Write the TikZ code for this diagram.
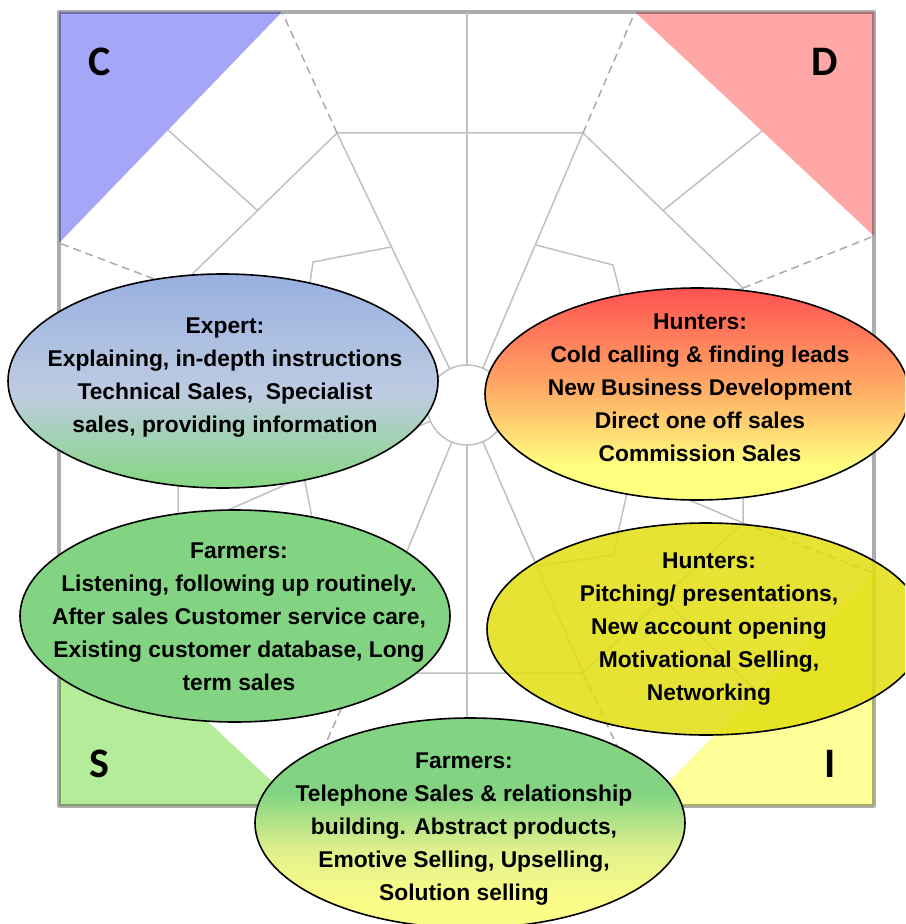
\documentclass[tikz,border=0pt]{standalone}
\usepackage{fontspec}
\setsansfont{Liberation Sans}
\newfontfamily\cornerfont{Carlito}
\usetikzlibrary{shapes.geometric}

\definecolor{wheelgray}{RGB}{192,192,192}
\definecolor{guidegray}{RGB}{170,170,170}
\definecolor{cblue}{RGB}{166,166,248}
\definecolor{dred}{RGB}{255,166,166}
\definecolor{sgreen}{RGB}{181,236,154}
\definecolor{iyellow}{RGB}{255,255,153}
\definecolor{expB}{RGB}{152,176,224}
\definecolor{expM}{RGB}{190,204,226}
\definecolor{expG}{RGB}{136,214,136}
\definecolor{huR}{RGB}{255,82,82}
\definecolor{huO}{RGB}{255,168,100}
\definecolor{huY}{RGB}{255,255,128}
\definecolor{faG}{RGB}{130,212,130}
\definecolor{faM}{RGB}{222,240,140}
\definecolor{faY}{RGB}{252,252,136}
\definecolor{hunterYellow}{RGB}{226,222,16}

\pgfdeclareverticalshading{expertshade}{100bp}{color(0bp)=(expG); color(27bp)=(expG); color(47bp)=(expM); color(75bp)=(expB); color(100bp)=(expB)}
\pgfdeclareverticalshading{huntershade}{100bp}{color(0bp)=(huY); color(33bp)=(huY); color(52bp)=(huO); color(75bp)=(huR); color(100bp)=(huR)}
\pgfdeclareverticalshading{farmershade}{100bp}{color(0bp)=(faY); color(32bp)=(faY); color(44bp)=(faM); color(57bp)=(faG); color(100bp)=(faG)}

\tikzset{
  wheel/.style={draw=wheelgray,line width=0.75pt},
  guide/.style={draw=guidegray,line width=0.75pt,dash pattern=on 4pt off 2.5pt},
  bubble/.style={ellipse,draw=black,line width=0.8pt,inner sep=0pt},
  blurb/.style={font=\sffamily\bfseries\fontsize{11.4}{16.5}\selectfont,align=center,inner sep=0pt,anchor=north},
  corner/.style={font=\cornerfont\bfseries\fontsize{21}{21}\selectfont,inner sep=0pt}
}

\begin{document}
\begin{tikzpicture}[x=0.5pt,y=-0.5pt,line join=round]
  \useasboundingbox (0,0) rectangle (905,924);
  \clip (0,0) rectangle (905,924);

  % corner fields
  \fill[cblue] (59,12) -- (282,12) -- (59,243) -- cycle;
  \fill[dred] (635,12) -- (874,12) -- (874,236) -- cycle;
  \fill[sgreen] (59,806) -- (59,582) -- (298,806) -- cycle;
  \fill[iyellow] (874,806) -- (645,806) -- (874,573) -- cycle;
  \draw[black,opacity=0.32,line width=1.6pt] (59,12) rectangle (874,806);

  % wheel points
  \coordinate (o) at (467,405);
  \coordinate (top) at (467,12);
  \coordinate (bot) at (467,806);
  \coordinate (a1) at (337,133);
  \coordinate (a2) at (583,133);
  \coordinate (a3) at (743,288);
  \coordinate (a4) at (743,523);
  \coordinate (a5) at (583,673);
  \coordinate (a6) at (357,673);
  \coordinate (a7) at (178,532);
  \coordinate (a8) at (178,288);
  \coordinate (p1) at (282,12);
  \coordinate (p2) at (635,12);
  \coordinate (p3) at (874,236);
  \coordinate (p4) at (874,573);
  \coordinate (p5) at (645,806);
  \coordinate (p6) at (298,806);
  \coordinate (p7) at (59,582);
  \coordinate (p8) at (59,243);

  % spokes
  \begin{scope}[wheel]
    \draw (o) to (top);
    \draw (o) to (bot);
    \draw (o) to (a1);
    \draw (o) to (a2);
    \draw (o) to (a3);
    \draw (o) to (a4);
    \draw (o) to (a5);
    \draw (o) to (a6);
    \draw (o) to (a7);
    \draw (o) to (a8);
    \draw (a1) -- (a2) -- (a3) -- (a4) -- (a5) -- (a6) -- (a7) -- (a8) -- cycle;
    \draw (257.5,210.5) -- (168,130);
    \draw (663,210.5) -- (762,131);
    \draw (663,598) -- (757,692);
    \draw (267.5,602.5) -- (177.5,692.5);
    \draw (391,247) -- (313,262) -- (302,338) -- (304,477) -- (318,548) -- (401,567);
    \draw (536,245) -- (613,265) -- (631,336) -- (631,475) -- (613,555) -- (537,566);
  \end{scope}
  \begin{scope}[guide]
    \draw (a1) to (p1);
    \draw (a2) to (p2);
    \draw (a3) to (p3);
    \draw (a4) to (p4);
    \draw (a5) to (p5);
    \draw (a6) to (p6);
    \draw (a7) to (p7);
    \draw (a8) to (p8);
  \end{scope}
  \node[circle,wheel,fill=white,minimum size=40pt,inner sep=0pt] (hub) at (o) {};

  % corner letters
  \node[corner] (c) at (100,62) {C};
  \node[corner] (d) at (825,62) {D};
  \node[corner] (s) at (99,764) {S};
  \node[corner] (i) at (830,764) {I};

  % bubbles
  \node[bubble,shading=expertshade,minimum width=215pt,minimum height=107pt] (expert) at (223,381) {};
  \node[bubble,shading=huntershade,minimum width=212pt,minimum height=106pt] (hunterA) at (697,394) {};
  \node[bubble,fill=faG,minimum width=215pt,minimum height=106pt] (farmerA) at (235,616) {};
  \node[bubble,fill=hunterYellow,fill opacity=0.85,minimum width=219pt,minimum height=106pt] (hunterB) at (706,629) {};
  \node[bubble,shading=farmershade,minimum width=215pt,minimum height=105pt] (farmerB) at (470,823) {};

  \node[blurb] (expert-txt) at (225,317) {Expert:\\Explaining, in-depth instructions\\Technical Sales,~ Specialist\\sales, providing information};
  \node[blurb] (hunterA-txt) at (700,313) {Hunters:\\Cold calling \& finding leads\\New Business Development\\Direct one off sales\\Commission Sales};
  \node[blurb] (farmerA-txt) at (239,542) {Farmers:\\Listening, following up routinely.\\After sales Customer service care,\\Existing customer database, Long\\term sales};
  \node[blurb] (hunterB-txt) at (709,552) {Hunters:\\Pitching/ presentations,\\New account opening\\Motivational Selling,\\Networking};
  \node[blurb] (farmerB-txt) at (464,752) {Farmers:\\Telephone Sales \& relationship\\building. Abstract products,\\Emotive Selling, Upselling,\\Solution selling};
\end{tikzpicture}
\end{document}
